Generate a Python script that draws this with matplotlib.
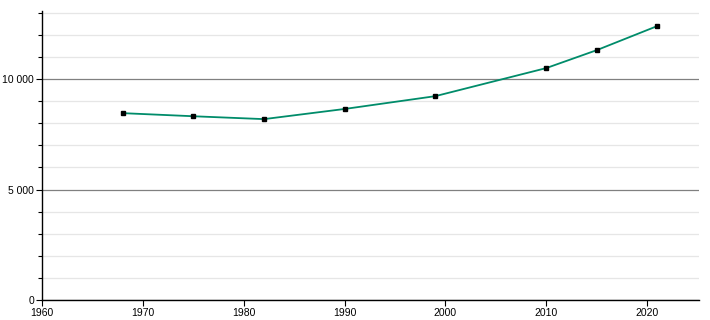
import matplotlib
matplotlib.use("Agg")
import matplotlib.pyplot as plt
from matplotlib.ticker import MultipleLocator, FuncFormatter

years = [1968, 1975, 1982, 1990, 1999, 2010, 2015, 2021]
population = [8460, 8320, 8190, 8650, 9230, 10500, 11310, 12400]

plt.rcParams['font.family'] = ['Liberation Sans', 'DejaVu Sans']

fig = plt.figure(figsize=(7.1, 3.2), dpi=100)
ax = fig.add_axes([0.0596, 0.0625, 0.9254, 0.9041])

ax.set_xlim(1960, 2025.2)
ax.set_ylim(0, 13100)

ax.yaxis.set_major_locator(MultipleLocator(5000))
ax.yaxis.set_minor_locator(MultipleLocator(1000))
ax.xaxis.set_major_locator(MultipleLocator(10))
ax.yaxis.set_major_formatter(FuncFormatter(lambda v, p: f"{int(v):,}".replace(",", " ")))

ax.grid(True, which='minor', axis='y', color='#e6e6e6', linewidth=0.9)
ax.grid(True, which='major', axis='y', color='#808080', linewidth=0.9)
ax.set_axisbelow(True)

ax.plot(years, population, color='#008c6a', linewidth=1.3, zorder=3)
ax.plot(years, population, linestyle='none', marker='s', markersize=3.2,
        color='black', zorder=4)

for s in ['top', 'right']:
    ax.spines[s].set_visible(False)
for s in ['left', 'bottom']:
    ax.spines[s].set_color('black')
    ax.spines[s].set_linewidth(1)

ax.tick_params(axis='both', which='major', labelsize=7.5, length=4, width=0.8, colors='black')
ax.tick_params(axis='y', which='minor', length=3, width=0.8)
ax.tick_params(axis='x', pad=2)
ax.tick_params(axis='y', pad=2)

fig.savefig("out.png", dpi=100)
